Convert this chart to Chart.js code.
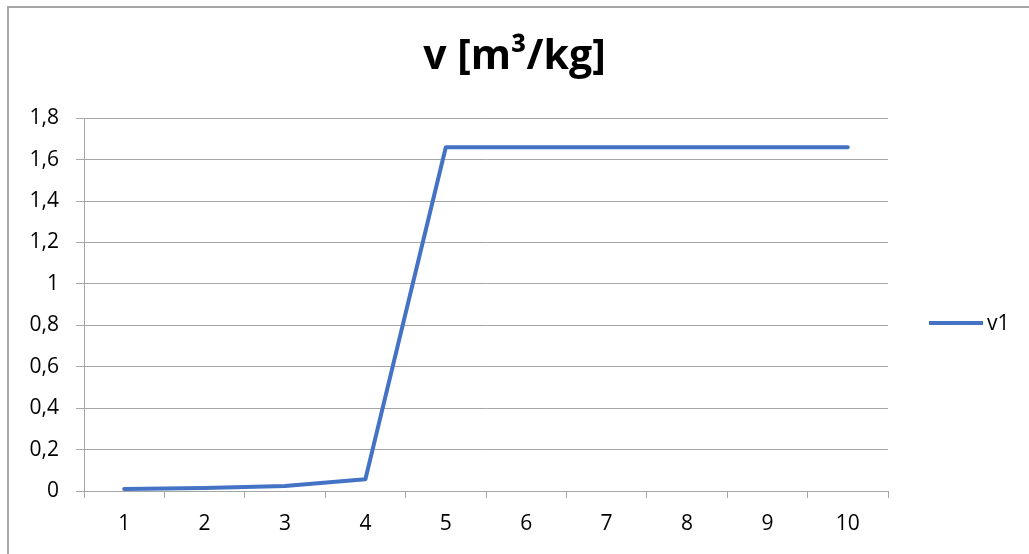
<!DOCTYPE html>
<html>
<head>
<meta charset="utf-8">
<script src="https://cdn.jsdelivr.net/npm/chart.js@4/dist/chart.umd.min.js"></script>
<style>
  html, body { margin: 0; padding: 0; background: #fff; overflow: hidden; }
  #frame { position: absolute; left: 7px; top: 6px; width: 1100px; height: 600px; border: 2px solid #a6a6a6; box-sizing: border-box; }
  #wrap { position: absolute; left: 0; top: 0; width: 1029px; height: 554px; }
</style>
</head>
<body>
<div id="frame"></div>
<div id="wrap"><canvas id="chart"></canvas></div>
<script>
const categories = ["1", "2", "3", "4", "5", "6", "7", "8", "9", "10"];
const v1Values = [0.01, 0.015, 0.024, 0.057, 1.66, 1.66, 1.66, 1.66, 1.66, 1.66];
const seriesLabel = "v1";
const chartTitle = "v [m³/kg]";

const lineColor = "#4472c4";
const gridColor = "#a6a6a6";
const fontFamily = "'Open Sans', sans-serif";

// simple excel-like legend on the right
const sideLegend = {
  id: "sideLegend",
  afterDraw(chart) {
    const ctx = chart.ctx;
    const ds = chart.data.datasets[0];
    const y = 323;
    ctx.save();
    ctx.strokeStyle = ds.borderColor;
    ctx.lineWidth = 4;
    ctx.beginPath();
    ctx.moveTo(929, y);
    ctx.lineTo(983, y);
    ctx.stroke();
    ctx.fillStyle = "#000";
    ctx.font = "21px " + fontFamily;
    ctx.textBaseline = "middle";
    ctx.fillText(ds.label, 987, y + 1);
    ctx.restore();
  }
};

new Chart(document.getElementById("chart"), {
  type: "line",
  data: {
    labels: categories,
    datasets: [{
      label: seriesLabel,
      data: v1Values,
      borderColor: lineColor,
      borderWidth: 4,
      pointRadius: 0,
      tension: 0,
      borderCapStyle: "round",
      borderJoinStyle: "round",
      fill: false
    }]
  },
  options: {
    responsive: true,
    maintainAspectRatio: false,
    animation: false,
    layout: { padding: { left: 0, right: 0, top: 0, bottom: 0 } },
    plugins: {
      legend: { display: false },
      tooltip: { enabled: false },
      title: {
        display: true,
        text: chartTitle,
        color: "#000",
        font: { family: fontFamily, size: 41, weight: "bold", lineHeight: 1.2 },
        padding: { top: 33, bottom: 36 }
      }
    },
    scales: {
      x: {
        offset: true,
        grid: { display: true, drawOnChartArea: false, drawTicks: true, tickLength: 7, color: gridColor, offset: true },
        border: { display: true, color: gridColor },
        ticks: { color: "#000", font: { family: fontFamily, size: 21 }, padding: 13 },
        afterFit(scale) { scale.height = 63; }
      },
      y: {
        min: 0,
        max: 1.8,
        grid: { color: gridColor, tickLength: 8 },
        border: { display: true, color: gridColor },
        ticks: {
          stepSize: 0.2,
          color: "#000",
          padding: 17,
          font: { family: fontFamily, size: 21 },
          callback: (value) => (Math.round(value * 10) / 10).toString().replace(".", ",")
        },
        afterFit(scale) { scale.width = 84; }
      },
      // empty axis that reserves room for the legend on the right
      legendSpace: {
        type: "linear",
        position: "right",
        grid: { display: false, drawTicks: false },
        border: { display: false },
        ticks: { display: false },
        afterFit(scale) { scale.width = 141; }
      }
    }
  },
  plugins: [sideLegend]
});
</script>
</body>
</html>
